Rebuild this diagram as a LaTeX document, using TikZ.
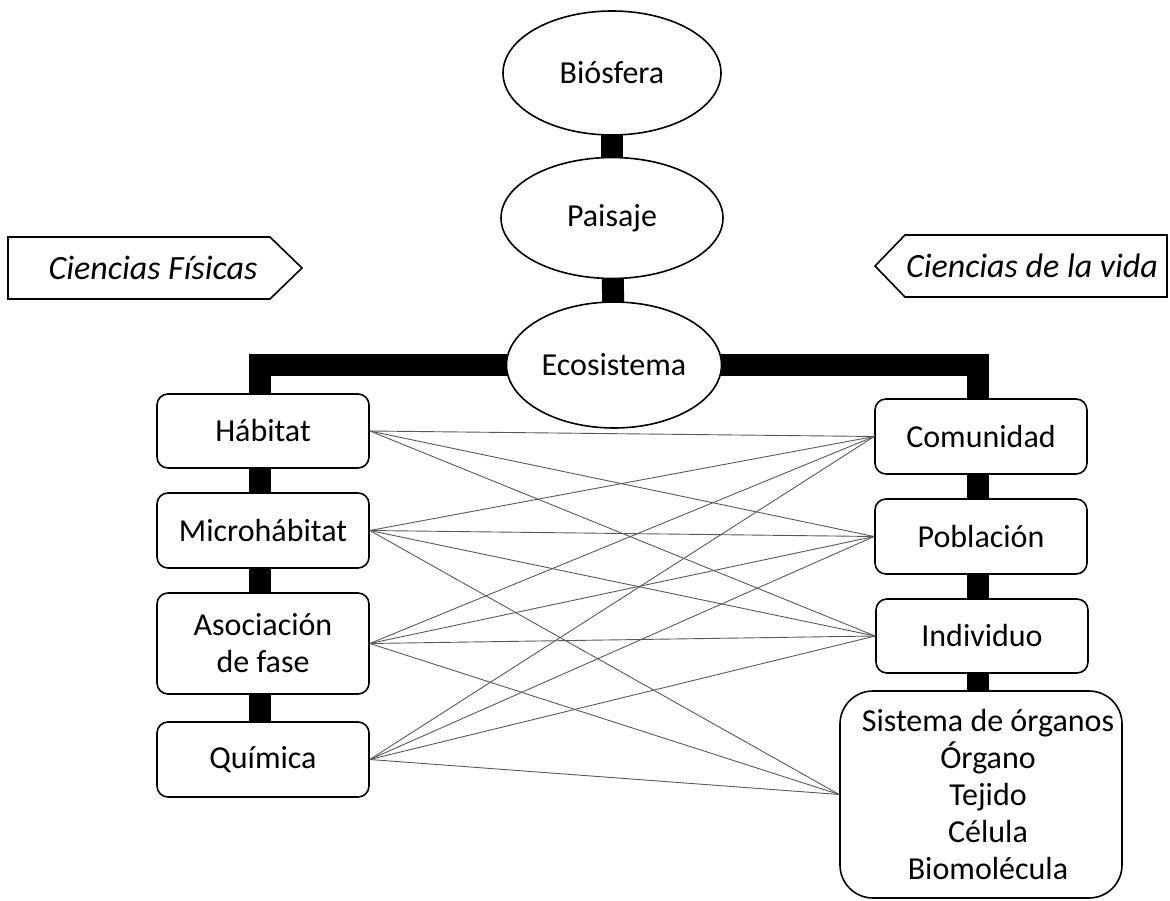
\documentclass[tikz,border=0pt]{standalone}
\usepackage{fontspec}
\setmainfont{Carlito}
\usetikzlibrary{shapes.geometric,backgrounds}
\begin{document}
\begin{tikzpicture}[x=1pt,y=-1pt,
  oval/.style={ellipse,draw,line width=1.6pt,fill=white,inner sep=0pt,font=\fontsize{32}{37}\selectfont},
  box/.style={rectangle,rounded corners=11pt,draw,line width=1.6pt,fill=white,minimum width=212pt,align=center,inner sep=0pt,font=\fontsize{32}{37}\selectfont},
  bar/.style={line width=22pt,line join=miter},
  link/.style={line width=0.9pt,draw=black!65},
  tag/.style={line width=1.6pt,fill=white},
  tagtext/.style={font=\fontsize{34}{40}\selectfont\itshape}]
\useasboundingbox (0,0) rectangle (1170,901);

% ellipses
\node[oval,minimum width=218pt,minimum height=124pt] (bio) at (612,73) {Biósfera};
\node[oval,minimum width=222pt,minimum height=121pt] (pai) at (612,218) {Paisaje};
\node[oval,minimum width=215pt,minimum height=126pt] (eco) at (614,365) {Ecosistema};

% left column
\node[box,minimum height=74pt] (hab) at (263,431) {Hábitat};
\node[box,minimum height=75pt] (mic) at (263,530.5) {Microhábitat};
\node[box,minimum height=101pt] (aso) at (263,643.5) {Asociación\\de fase};
\node[box,minimum height=75pt] (qui) at (263,759.5) {Química};

% right column
\node[box,minimum height=75pt] (com) at (981,436.5) {Comunidad};
\node[box,minimum height=75pt] (pob) at (981,536.5) {Población};
\node[box,minimum height=74pt] (ind) at (982,636) {Individuo};
\node[box,minimum width=282pt,minimum height=207pt,rounded corners=33pt] (sis) at (981,794.5)
  {\hspace*{14pt}Sistema de órganos\\\hspace*{14pt}Órgano\\\hspace*{14pt}Tejido\\\hspace*{14pt}Célula\\\hspace*{14pt}Biomolécula};

% tags
\draw[tag] (8,237) -- (270,237) -- (302,268) -- (270,299) -- (8,299) -- cycle;
\node[tagtext] (cf) at (153,268) {Ciencias Físicas};
\draw[tag] (1167,235) -- (905,235) -- (875,266) -- (905,297) -- (1167,297) -- cycle;
\node[tagtext] (cv) at (1032,266) {Ciencias de la vida};

% thick connectors
\begin{pgfonlayer}{background}
  \draw[bar] (bio.center) -- (pai.center);
  \draw[bar] (pai.center) -- (eco.center);
  \draw[bar] (eco.center) -| ([xshift=-3pt]hab.center);
  \draw[bar] (eco.center) -| ([xshift=-3pt]com.center);
  \draw[bar] ([xshift=-3pt]hab.center) -- ([xshift=-3pt]mic.center);
  \draw[bar] ([xshift=-3pt]mic.center) -- ([xshift=-3pt]aso.center);
  \draw[bar] ([xshift=-3pt]aso.center) -- ([xshift=-3pt]qui.center);
  \draw[bar] ([xshift=-3pt]com.center) -- ([xshift=-3pt]pob.center);
  \draw[bar] ([xshift=-3pt]pob.center) -- ([xshift=-4pt]ind.center);
  \draw[bar] ([xshift=-4pt]ind.center) -- ([xshift=-3pt]sis.center);
\end{pgfonlayer}

% thin links
\foreach \a/\b in {hab/com,hab/pob,hab/ind,
                   mic/com,mic/pob,mic/ind,mic/sis,
                   aso/com,aso/pob,aso/ind,aso/sis,
                   qui/com,qui/pob,qui/ind,qui/sis}
  \draw[link] (\a.east) -- (\b.west);
\end{tikzpicture}
\end{document}
